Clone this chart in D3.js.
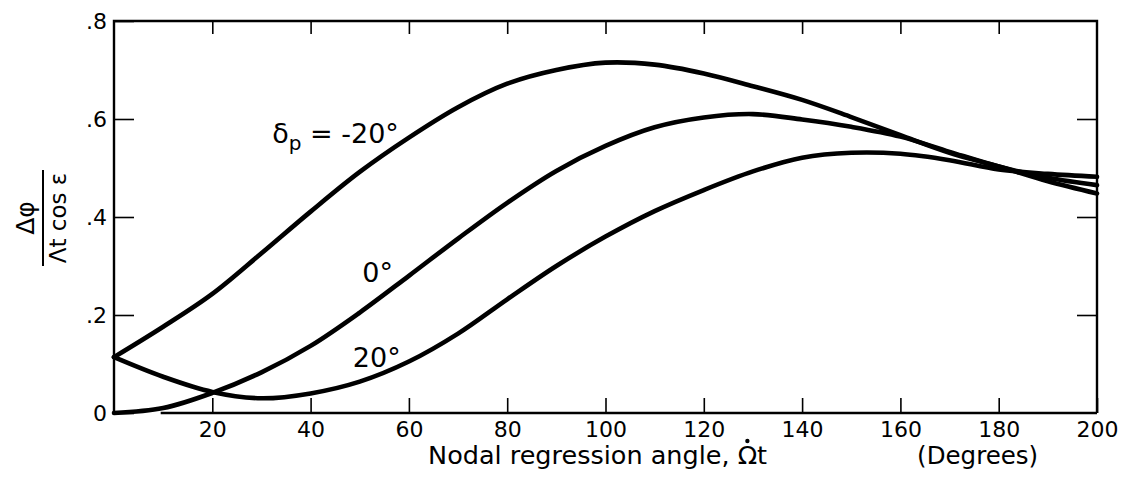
<!DOCTYPE html>
<html>
<head>
<meta charset="utf-8">
<script src="https://cdn.jsdelivr.net/npm/d3@7"></script>
<style>
    body { margin: 0; background: #fff; }
    svg { display: block; font-family: "DejaVu Sans", sans-serif; }
</style>
</head>
<body>
<div id="chart"></div>
<script>
// nodal regression angle (degrees)
const angles = [0, 10, 20, 30, 40, 50, 60, 70, 80, 90, 100, 110, 120, 130, 140, 150, 160, 170, 180, 190, 200];

// delta_p = -20 deg
const curveMinus20 = [0.114, 0.176, 0.243, 0.326, 0.411, 0.492, 0.562, 0.624, 0.672, 0.700, 0.715, 0.711, 0.693, 0.667, 0.639, 0.604, 0.567, 0.531, 0.503, 0.473, 0.448];
// delta_p = 0 deg
const curveZero = [0.000, 0.010, 0.041, 0.083, 0.137, 0.205, 0.280, 0.356, 0.429, 0.494, 0.545, 0.583, 0.603, 0.610, 0.599, 0.584, 0.564, 0.533, 0.503, 0.480, 0.465];
// delta_p = 20 deg
const curvePlus20 = [0.114, 0.074, 0.043, 0.030, 0.040, 0.064, 0.105, 0.162, 0.232, 0.300, 0.360, 0.412, 0.455, 0.493, 0.521, 0.531, 0.529, 0.516, 0.497, 0.488, 0.482];

const xTicks = [20, 40, 60, 80, 100, 120, 140, 160, 180, 200];
const yTicks = [0, 0.2, 0.4, 0.6, 0.8];
const yTickLabels = ["0", ".2", ".4", ".6", ".8"];

const margin = { top: 21, right: 27, bottom: 64, left: 114 },
    width = 1124 - margin.left - margin.right,
    height = 477 - margin.top - margin.bottom;

const svg = d3.select("#chart")
    .append("svg")
    .attr("width", 1124)
    .attr("height", 477)
    .append("g")
    .attr("transform", "translate(" + margin.left + "," + margin.top + ")");

const x = d3.scaleLinear()
    .domain([0, 200])
    .range([0, width]);

const y = d3.scaleLinear()
    .domain([0, 0.8])
    .range([height, 0]);

// ticks (all point inward)
const bottomAxis = svg.append("g")
    .attr("transform", "translate(0," + height + ")")
    .call(d3.axisBottom(x).tickValues(xTicks).tickSize(-15).tickPadding(8));

const leftAxis = svg.append("g")
    .call(d3.axisLeft(y).tickValues(yTicks).tickSize(-20).tickPadding(7)
        .tickFormat(function (d, i) { return yTickLabels[i]; }));

svg.append("g")
    .call(d3.axisTop(x).tickValues(xTicks.slice(0, -1)).tickSize(-13).tickFormat(""));

svg.append("g")
    .attr("transform", "translate(" + width + ",0)")
    .call(d3.axisRight(y).tickValues([0.2, 0.4, 0.6]).tickSize(-20).tickFormat(""));

svg.selectAll(".domain").remove();
svg.selectAll(".tick line").attr("stroke", "#000").attr("stroke-width", 1.6);

bottomAxis.selectAll("text")
    .attr("fill", "#000")
    .style("font-size", "22px")
    .style("font-family", "DejaVu Sans, sans-serif");

leftAxis.selectAll("text")
    .attr("fill", "#000")
    .style("font-size", "22px")
    .style("font-family", "DejaVu Sans, sans-serif");

// frame; the bottom rule starts a little right of the origin as in the original
const frame = svg.append("g")
    .attr("stroke", "#000")
    .attr("stroke-width", 2.4)
    .attr("fill", "none");

frame.append("path")
    .attr("d", "M" + x(200) + "," + y(0) + "V" + y(0.8) + "H" + x(0) + "V" + y(0));

frame.append("line")
    .attr("x1", x(9.5))
    .attr("x2", x(200))
    .attr("y1", y(0))
    .attr("y2", y(0));

// curves
const series = [curveMinus20, curveZero, curvePlus20];

const line = d3.line()
    .x(function (d, i) { return x(angles[i]); })
    .y(function (d) { return y(d); })
    .curve(d3.curveCatmullRom.alpha(0.5));

svg.append("g")
    .selectAll("path")
    .data(series)
    .enter()
    .append("path")
    .attr("d", line)
    .attr("fill", "none")
    .attr("stroke", "#000")
    .attr("stroke-width", 4.6)
    .attr("stroke-linecap", "round");

// curve labels
const lab = svg.append("g")
    .attr("fill", "#000")
    .style("font-size", "27px");

const topLabel = lab.append("text")
    .attr("x", x(32.2))
    .attr("y", y(0.551));
topLabel.append("tspan").text("\u03B4");
topLabel.append("tspan").attr("dy", 7).style("font-size", "20px").text("p");
topLabel.append("tspan").attr("dy", -7).text(" = -20\u00B0");

lab.append("text")
    .attr("x", x(50.5))
    .attr("y", y(0.268))
    .text("0\u00B0");

lab.append("text")
    .attr("x", x(48.6))
    .attr("y", y(0.094))
    .text("20\u00B0");

// axis titles
const titleY = height + 51;

const xTitle = svg.append("text")
    .attr("x", x(63.9))
    .attr("y", titleY)
    .attr("fill", "#000")
    .style("font-size", "25.5px")
    .text("Nodal regression angle, \u03A9t");

// dot over the Omega
const omegaIndex = "Nodal regression angle, ".length;
const omegaStart = xTitle.node().getStartPositionOfChar(omegaIndex);
const omegaEnd = xTitle.node().getEndPositionOfChar(omegaIndex);
svg.append("circle")
    .attr("cx", (omegaStart.x + omegaEnd.x) / 2)
    .attr("cy", titleY - 23)
    .attr("r", 2.2)
    .attr("fill", "#000");

svg.append("text")
    .attr("x", x(163.4))
    .attr("y", titleY)
    .attr("fill", "#000")
    .style("font-size", "24.5px")
    .text("(Degrees)");

const yTitle = svg.append("g")
    .attr("transform", "translate(" + (43 - margin.left) + "," + (218 - margin.top) + ") rotate(-90)");

yTitle.append("line")
    .attr("x1", -48)
    .attr("x2", 48)
    .attr("stroke", "#000")
    .attr("stroke-width", 2);

yTitle.append("text")
    .attr("y", -18)
    .attr("text-anchor", "middle")
    .attr("dominant-baseline", "central")
    .attr("fill", "#000")
    .style("font-size", "25px")
    .text("\u0394\u03C6");

yTitle.append("text")
    .attr("y", 15)
    .attr("text-anchor", "middle")
    .attr("dominant-baseline", "central")
    .attr("fill", "#000")
    .style("font-size", "23px")
    .text("\u039Bt cos \u03B5");
</script>
</body>
</html>
